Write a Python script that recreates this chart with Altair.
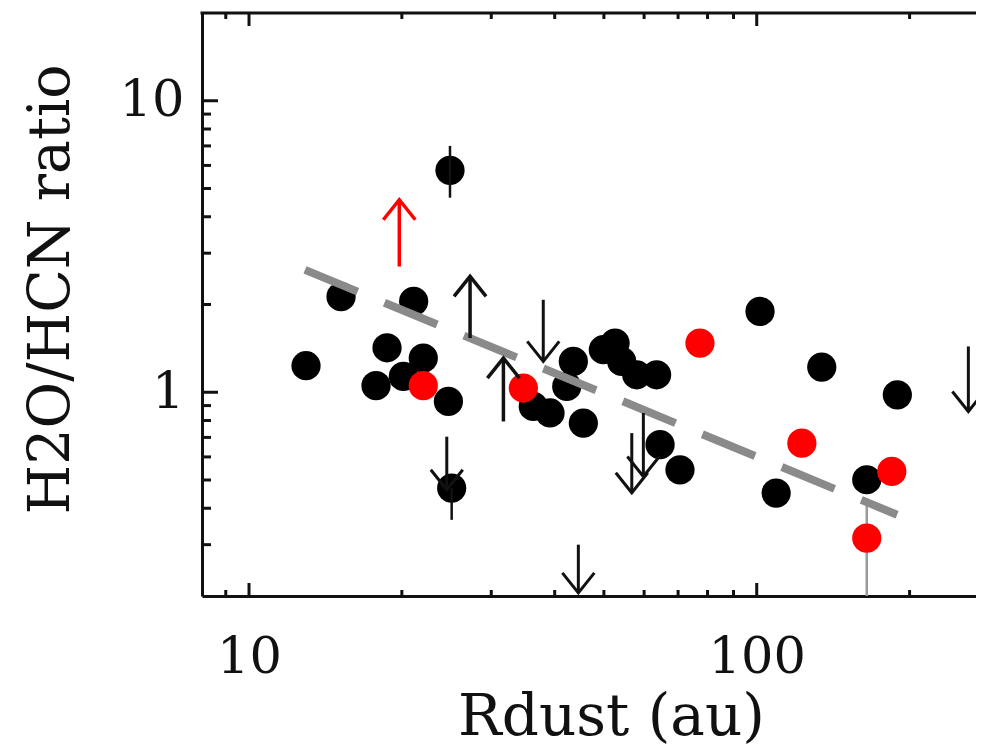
import altair as alt
import pandas as pd

# ---- data ----
black_x = [12.95, 15.18, 17.79, 18.70, 21.1, 22.04, 20.14, 24.70, 25.07, 24.88,
           36.3, 39.16, 42.25, 43.53, 45.55, 49.88, 52.6, 54.2, 58.03, 63.5, 64.5,
           70.6, 101.5, 134.3, 109.2, 189.2, 164.7]
black_y = [1.233, 2.127, 1.053, 1.421, 2.05, 1.31, 1.133, 0.930, 0.469, 5.77,
           0.894, 0.849, 1.047, 1.276, 0.784, 1.399, 1.475, 1.276, 1.148, 1.148, 0.661,
           0.542, 1.893, 1.22, 0.451, 0.98, 0.501]

red_x = [22.04, 34.7, 77.3, 122.7, 184.5, 164.7]
red_y = [1.053, 1.034, 1.475, 0.669, 0.535, 0.316]

err_x = [24.88, 25.07, 164.7]
err_lo = [4.65, 0.365, 0.19]
err_hi = [7.0, 0.47, 0.41]
err_col = ["#111111", "#111111", "#9a9a9a"]

up_x = [19.77, 27.25, 31.70]
up_base = [2.70, 1.535, 0.794]
up_tip = [4.575, 2.497, 1.31]
up_col = ["#ff0000", "#111111", "#111111"]

down_x = [37.98, 56.74, 59.8, 261.1, 44.53, 24.52]
down_base = [2.076, 0.724, 0.849, 1.436, 0.30, 0.704]
down_tip = [1.276, 0.452, 0.514, 0.859, 0.205, 0.463]

fit_x = [12.89, 189.0]
fit_y = [2.63, 0.38]

x_major = [10, 100]
x_minor = [9, 20, 30, 40, 50, 60, 70, 80, 90, 200]
y_major = [1, 10]
y_minor = [0.3, 0.4, 0.5, 0.6, 0.7, 0.8, 0.9, 2, 3, 4, 5, 6, 7, 8, 9]

W, H = 774, 583
INK = "#111111"
FONT = "DejaVu Serif"

xs = alt.Scale(type="log", domain=[8.08, 270.3], nice=False)
ys = alt.Scale(type="log", domain=[0.2, 20], nice=False)

xaxis = alt.Axis(values=x_major, format="d", ticks=False, grid=False,
                 domainColor=INK, domainWidth=3,
                 labelFont=FONT, labelFontSize=51, labelColor=INK, labelPadding=36,
                 labelFlush=False, labelOverlap=False,
                 title="Rdust (au)", titleFont=FONT, titleFontSize=58,
                 titleFontWeight="normal", titleColor=INK, titleX=409, titleY=138,
                 titleBaseline="alphabetic", titleAlign="center")
yaxis = alt.Axis(values=y_major, format="d", ticks=False, grid=False,
                 domainColor=INK, domainWidth=3,
                 labelFont=FONT, labelFontSize=51, labelColor=INK, labelPadding=18,
                 labelFlush=False, labelOverlap=False,
                 title="H2O/HCN ratio", titleFont=FONT, titleFontSize=57,
                 titleFontWeight="normal", titleColor=INK, titleAngle=270,
                 titleX=-151, titleY=276, titleBaseline="middle", titleAlign="center")


def X(f):
    return alt.X(f, scale=xs, axis=xaxis)


def Y(f):
    return alt.Y(f, scale=ys, axis=yaxis)


black_df = pd.DataFrame({"x": black_x, "y": black_y})
red_df = pd.DataFrame({"x": red_x, "y": red_y})
err_df = pd.DataFrame({"x": err_x, "lo": err_lo, "hi": err_hi, "c": err_col})
up_df = pd.DataFrame({"x": up_x, "b": up_base, "t": up_tip, "c": up_col})
down_df = pd.DataFrame({"x": down_x, "b": down_base, "t": down_tip})
fit_df = pd.DataFrame({"x": fit_x, "y": fit_y})

black = alt.Chart(black_df).mark_circle(size=855, opacity=1, color="black", clip=True).encode(
    x=X("x:Q"), y=Y("y:Q"))

errs = alt.Chart(err_df).mark_rule(strokeWidth=2.5, clip=True).encode(
    x=X("x:Q"), y=Y("lo:Q"), y2="hi:Q", color=alt.Color("c:N", scale=None))

fit = alt.Chart(fit_df).mark_line(color="#8a8a8a", strokeWidth=8, strokeDash=[57, 29],
                                  strokeCap="butt", clip=True).encode(x=X("x:Q"), y=Y("y:Q"))

red = alt.Chart(red_df).mark_circle(size=855, opacity=1, color="#ff0000", clip=True).encode(
    x=X("x:Q"), y=Y("y:Q"))

up_shaft = alt.Chart(up_df).mark_rule(strokeWidth=3.5, clip=True).encode(
    x=X("x:Q"), y=Y("b:Q"), y2="t:Q", color=alt.Color("c:N", scale=None))
up_head = alt.Chart(up_df).mark_point(shape="M-0.8,1L0,0L0.8,1", size=1600, filled=False,
                                      strokeWidth=3.5, opacity=1, clip=True).encode(
    x=X("x:Q"), y=Y("t:Q"), color=alt.Color("c:N", scale=None))
down_shaft = alt.Chart(down_df).mark_rule(strokeWidth=3, color=INK, clip=True).encode(
    x=X("x:Q"), y=Y("b:Q"), y2="t:Q")
down_head = alt.Chart(down_df).mark_point(shape="M-0.8,-1L0,0L0.8,-1", size=1600, filled=False,
                                          strokeWidth=3, color=INK, opacity=1, clip=True).encode(
    x=X("x:Q"), y=Y("t:Q"))

# frame top line and inward ticks
one = pd.DataFrame({"a": [0]})
top_line = alt.Chart(one).mark_rule(color=INK, strokeWidth=3).encode(
    x=alt.value(-1.5), x2=alt.value(W), y=alt.value(0))


def xticks(vals, length):
    d = pd.DataFrame({"v": vals})
    bot = alt.Chart(d).mark_rule(color=INK, strokeWidth=3).encode(
        x=X("v:Q"), y=alt.value(H), y2=alt.value(H - length))
    top = alt.Chart(d).mark_rule(color=INK, strokeWidth=3).encode(
        x=X("v:Q"), y=alt.value(0), y2=alt.value(length))
    return [bot, top]


def yticks(vals, length):
    d = pd.DataFrame({"v": vals})
    return [alt.Chart(d).mark_rule(color=INK, strokeWidth=3).encode(
        y=Y("v:Q"), x=alt.value(0), x2=alt.value(length))]


layers = [black, errs, fit, red, up_shaft, up_head, down_shaft, down_head, top_line]
layers += xticks(x_major, 13) + xticks(x_minor, 6) + yticks(y_major, 16) + yticks(y_minor, 9)

chart = alt.layer(*layers).properties(
    width=W, height=H,
    padding={"left": 194, "top": 5, "right": 0, "bottom": 152},
    autosize=alt.AutoSizeParams(type="none"),
    background="white",
).configure_view(stroke=None)

chart.save("out.html", embed_options={"renderer": "svg", "actions": False})
